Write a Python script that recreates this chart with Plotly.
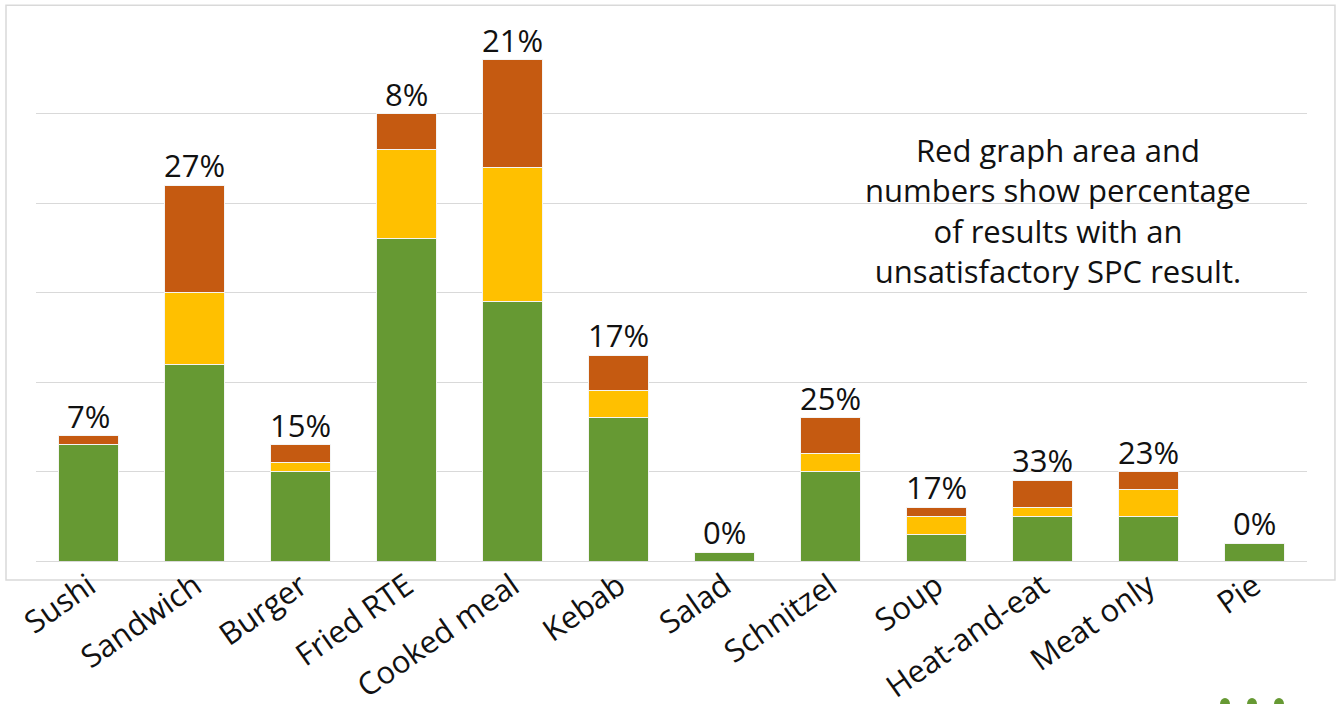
import plotly.graph_objects as go

categories = ["Sushi", "Sandwich", "Burger", "Fried RTE", "Cooked meal", "Kebab",
              "Salad", "Schnitzel", "Soup", "Heat-and-eat", "Meat only", "Pie"]
satisfactory = [13, 22, 10, 36, 29, 16, 1, 10, 3, 5, 5, 2]
borderline = [0, 8, 1, 10, 15, 3, 0, 2, 2, 1, 3, 0]
unsatisfactory = [1, 12, 2, 4, 12, 4, 0, 4, 1, 3, 2, 0]
pct_labels = ["7%", "27%", "15%", "8%", "21%", "17%", "0%", "25%", "17%", "33%", "23%", "0%"]
y_ticks = [0, 10, 20, 30, 40, 50, 60]

GREEN = "#669933"
YELLOW = "#FFC000"
RED = "#C55A11"
FONT = "Open Sans"

fig = go.Figure()
for vals, col in [(satisfactory, GREEN), (borderline, YELLOW), (unsatisfactory, RED)]:
    fig.add_trace(go.Bar(x=categories, y=vals, marker=dict(color=col, line=dict(color="#f4f4f4", width=1)),
                         hoverinfo="skip"))

totals = [a + b + c for a, b, c in zip(satisfactory, borderline, unsatisfactory)]
for cat, tot, lab in zip(categories, totals, pct_labels):
    fig.add_annotation(x=cat, y=tot, text=lab, showarrow=False, yanchor="bottom", yshift=-3,
                       font=dict(family=FONT, size=31, color="#111111"))

fig.add_annotation(xref="paper", yref="paper", x=0.804, y=0.652, xanchor="center", yanchor="middle",
                   text="Red graph area and<br>numbers show percentage<br>of results with an<br>unsatisfactory SPC result.",
                   showarrow=False, align="center",
                   font=dict(family=FONT, size=31, color="#111111"))

# chart frame
fig.add_shape(type="rect", xref="paper", yref="paper", x0=-0.0236, x1=1.022, y0=-0.0354, y1=1.035,
              line=dict(color="#d9d9d9", width=1.5), fillcolor="rgba(0,0,0,0)", layer="below")

# decorative dots at bottom right
for px in [1225, 1252, 1279]:
    xp = (px - 36) / 1271
    fig.add_shape(type="circle", xref="paper", yref="paper",
                  x0=xp - 5 / 1271, x1=xp + 5 / 1271, y0=(561 - 710) / 537, y1=(561 - 698) / 537,
                  line=dict(width=0), fillcolor=GREEN)

fig.update_layout(
    barmode="stack", bargap=0.433, showlegend=False,
    width=1338, height=704,
    margin=dict(l=36, r=31, t=24, b=143, autoexpand=False),
    plot_bgcolor="white", paper_bgcolor="white",
    font=dict(family=FONT),
    xaxis=dict(tickangle=-35, tickfont=dict(family=FONT, size=31, color="#111111"),
               showline=False, ticks="", showgrid=False, automargin=False),
    yaxis=dict(range=[0, 60], tickvals=y_ticks, showticklabels=False, showgrid=True,
               gridcolor="#d9d9d9", gridwidth=1, zeroline=True, zerolinecolor="#d9d9d9", zerolinewidth=1,
               fixedrange=True, automargin=False),
)

fig.write_html("out.html")
